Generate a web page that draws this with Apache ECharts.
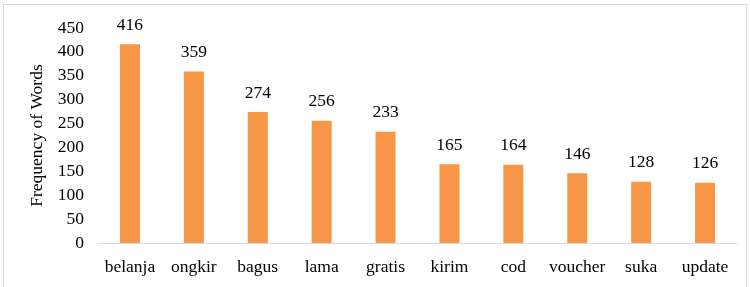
<!DOCTYPE html>
<html>
<head>
<meta charset="utf-8">
<script src="https://cdn.jsdelivr.net/npm/echarts@6/dist/echarts.min.js"></script>
<style>
  html, body { margin: 0; padding: 0; background: #fff; }
  #frame { position: absolute; left: 3px; top: 4px; width: 744px; height: 300px; border: 1px solid #d9d9d9; box-sizing: border-box; }
  #chart { position: absolute; left: 0; top: 0; width: 750px; height: 287px; }
</style>
</head>
<body>
<div id="frame"></div>
<div id="chart"></div>
<script>
var words = ['belanja', 'ongkir', 'bagus', 'lama', 'gratis', 'kirim', 'cod', 'voucher', 'suka', 'update']
var counts = [416, 359, 274, 256, 233, 165, 164, 146, 128, 126]

var chart = echarts.init(document.getElementById('chart'))
var font = 'Liberation Serif, Times New Roman, serif'

chart.setOption({
  animation: false,
  grid: { left: 98, right: 13, top: 28, bottom: 44 },
  xAxis: {
    type: 'category',
    data: words,
    axisLine: { lineStyle: { color: '#d9d9d9', width: 1 } },
    axisTick: { show: false },
    axisLabel: { interval: 0, color: '#000', fontFamily: font, fontSize: 17.5, margin: 15 }
  },
  yAxis: {
    type: 'value',
    min: 0,
    max: 450,
    interval: 50,
    name: 'Frequency of Words',
    nameLocation: 'middle',
    nameGap: 45,
    nameTextStyle: { color: '#000', fontFamily: font, fontSize: 17.5 },
    splitLine: { show: false },
    axisLine: { show: false },
    axisTick: { show: false },
    axisLabel: { color: '#000', fontFamily: font, fontSize: 17.5, margin: 14 }
  },
  series: [{
    type: 'bar',
    data: counts,
    barWidth: 20,
    itemStyle: { color: '#f79646' },
    label: {
      show: true,
      position: 'top',
      distance: 10,
      color: '#000',
      fontFamily: font,
      fontSize: 17.5
    }
  }]
})
</script>
</body>
</html>
